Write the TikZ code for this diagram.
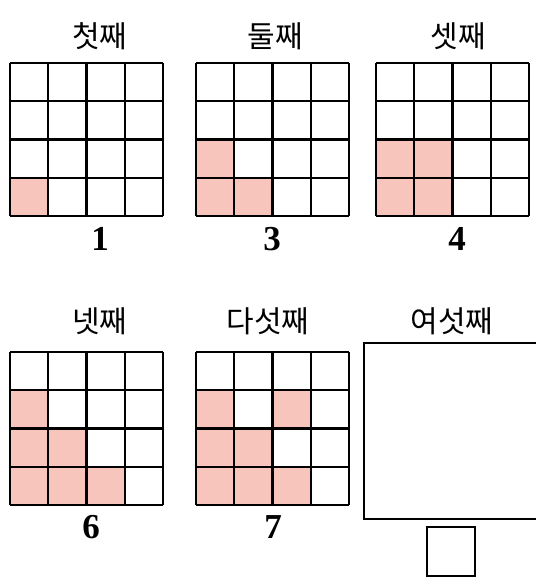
\documentclass[tikz,border=0pt]{standalone}
\usepackage{fontspec}
\setmainfont{Liberation Serif}
\newfontfamily\kor{Noto Sans CJK KR}
\definecolor{cellpink}{HTML}{F8C5BD}
\tikzset{
  gridline/.style={line width=2.3pt, black},
  title/.style={font=\kor\fontsize{30}{32}\selectfont, inner sep=0pt},
  num/.style={font=\bfseries\fontsize{35}{37}\selectfont, inner sep=0pt},
  pinkcell/.style={fill=cellpink}
}
\newcommand{\mygrid}[3]{%
  \foreach \c/\r in {#3}{
    \fill[cellpink] ({#1+\c*38.25},{#2+153-(\r+1)*38.25}) rectangle ++(38.25,38.25);
  }
  \foreach \i in {0,...,4}{
    \draw[gridline] ({#1+\i*38.25},#2) -- ++(0,153);
    \draw[gridline] (#1,{#2+\i*38.25}) -- ++(153,0);
  }
}
\begin{document}
\begin{tikzpicture}[x=1pt,y=-1pt]
\useasboundingbox (0,0) rectangle (536,579);
\clip (0,0) rectangle (536,579);
\mygrid{10}{63}{0/0}
\mygrid{196}{63}{0/0,1/0,0/1}
\mygrid{376}{63}{0/0,1/0,0/1,1/1}
\mygrid{10}{352}{0/0,1/0,2/0,0/1,1/1,0/2}
\mygrid{196}{352}{0/0,1/0,2/0,0/1,1/1,0/2,2/2}
\node[title] (t1) at (100,36) {첫째};
\node[title] (t2) at (275,36) {둘째};
\node[title] (t3) at (458,36) {셋째};
\node[title] (t4) at (100,321) {넷째};
\node[title] (t5) at (268,321) {다섯째};
\node[title] (t6) at (452,321) {여섯째};
\node[num] (n1) at (100,239) {1};
\node[num] (n2) at (272,239) {3};
\node[num] (n3) at (457,239) {4};
\node[num] (n4) at (91,527) {6};
\node[num] (n5) at (273,527) {7};
\draw[gridline] (364,343) rectangle (560,519);
\draw[gridline] (427,527) rectangle (475,576);
\end{tikzpicture}
\end{document}
